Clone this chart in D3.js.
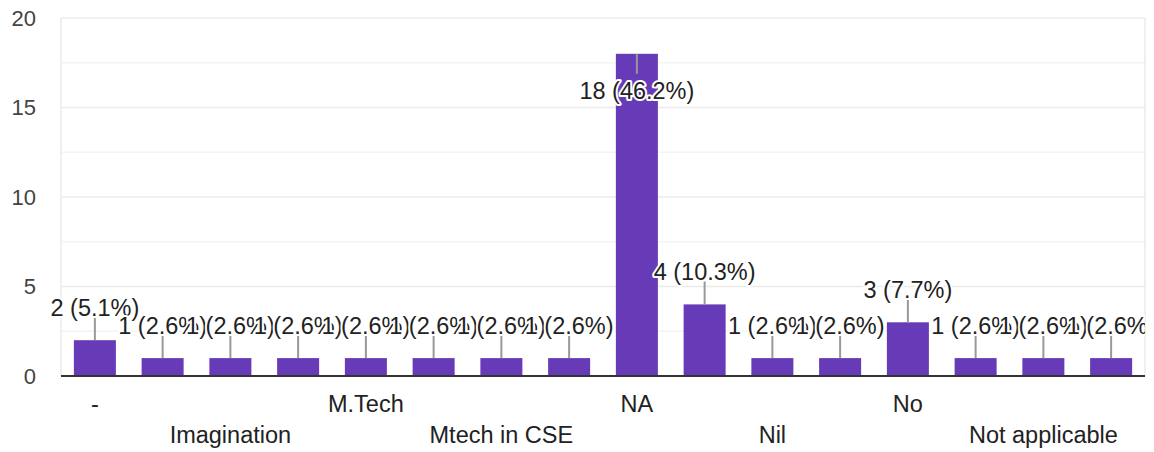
<!DOCTYPE html>
<html>
<head>
<meta charset="utf-8">
<script src="https://cdn.jsdelivr.net/npm/d3@7"></script>
<style>
  body { margin: 0; background: #fff; }
  svg { display: block; font-family: "Liberation Sans", Arial, sans-serif; }
</style>
</head>
<body>
<div id="chart"></div>
<script>
// answers, in the order the form chart lists them (odd ones have no visible label)
const categories = ["-", "Good", "Imagination", "Java", "M.Tech", "MTech", "Mtech in CSE", "Mtech in IT",
  "NA", "NIL", "Nil", "Nill", "No", "None", "Not applicable", "Nothing"];
const counts = [2, 1, 1, 1, 1, 1, 1, 1, 18, 4, 1, 1, 3, 1, 1, 1];
const yTicks = [0, 5, 10, 15, 20];
const yMinor = [2.5, 7.5, 12.5, 17.5];

const width = 1154;
const height = 452;
const margin = { top: 18, right: 9, bottom: 76, left: 61 };
const total = d3.sum(counts);

const data = categories.map((c, i) => ({ name: c, value: counts[i], idx: i }));

const svg = d3.select("#chart").append("svg")
  .attr("width", width)
  .attr("height", height);

const x = d3.scaleBand()
  .domain(categories)
  .range([margin.left, width - margin.right])
  .paddingInner(0.38)
  .paddingOuter(0.19);

const y = d3.scaleLinear()
  .domain([0, 20])
  .range([height - margin.bottom, margin.top]);

// grid
svg.append("g").selectAll("line.minor")
  .data(yMinor).enter().append("line")
  .attr("x1", margin.left).attr("x2", width - margin.right)
  .attr("y1", d => y(d)).attr("y2", d => y(d))
  .attr("stroke", "#f4f4f4").attr("stroke-width", 1.5);

svg.append("g").selectAll("line.major")
  .data(yTicks.slice(1)).enter().append("line")
  .attr("x1", margin.left).attr("x2", width - margin.right)
  .attr("y1", d => y(d)).attr("y2", d => y(d))
  .attr("stroke", "#ebebeb").attr("stroke-width", 1.5);

[margin.left, width - margin.right].forEach(xx => {
  svg.append("line")
    .attr("x1", xx).attr("x2", xx)
    .attr("y1", y(20)).attr("y2", y(0))
    .attr("stroke", "#ebebeb").attr("stroke-width", 1.5);
});

// y tick labels
svg.append("g").selectAll("text")
  .data(yTicks).enter().append("text")
  .attr("x", 36)
  .attr("y", d => y(d))
  .attr("dy", "0.36em")
  .attr("text-anchor", "end")
  .style("font-size", "22px")
  .style("fill", "#444")
  .text(d => d);

// bars
svg.append("g").selectAll("rect")
  .data(data).enter().append("rect")
  .attr("x", d => x(d.name))
  .attr("width", x.bandwidth())
  .attr("y", d => y(d.value))
  .attr("height", d => y(0) - y(d.value))
  .attr("fill", "#673ab7");

// baseline
svg.append("line")
  .attr("x1", margin.left).attr("x2", width - margin.right)
  .attr("y1", y(0)).attr("y2", y(0))
  .attr("stroke", "#333").attr("stroke-width", 2);

// x labels, every other one, in two rows
svg.append("g").selectAll("text")
  .data(data.filter(d => d.idx % 2 === 0)).enter().append("text")
  .attr("x", d => x(d.name) + x.bandwidth() / 2)
  .attr("y", d => (d.idx % 4 === 0 ? 412 : 443))
  .attr("text-anchor", "middle")
  .style("font-size", "23.5px")
  .style("fill", "#222")
  .text(d => d.name);

// annotations: stem + "n (p%)" label
svg.append("clipPath").attr("id", "annClip")
  .append("rect")
  .attr("x", 0).attr("y", 0)
  .attr("width", width - margin.right).attr("height", height);

const stem = 23;
const ann = svg.append("g").attr("clip-path", "url(#annClip)");

data.forEach(d => {
  const cx = x(d.name) + x.bandwidth() / 2;
  const top = y(d.value);
  const inside = top - stem - 18 < margin.top;
  const g = ann.append("g");
  g.append("line")
    .attr("x1", cx).attr("x2", cx)
    .attr("y1", top)
    .attr("y2", inside ? top + 20 : top - stem)
    .attr("stroke", "#999").attr("stroke-width", 2);
  g.append("text")
    .attr("x", cx)
    .attr("y", inside ? top + 45 : top - stem - 1)
    .attr("text-anchor", "middle")
    .style("font-size", "23.5px")
    .style("fill", "#222")
    .style("stroke", "#fff")
    .style("stroke-width", 4)
    .style("stroke-linejoin", "round")
    .style("paint-order", "stroke")
    .text(`${d.value} (${(d.value / total * 100).toFixed(1)}%)`);
});
</script>
</body>
</html>
